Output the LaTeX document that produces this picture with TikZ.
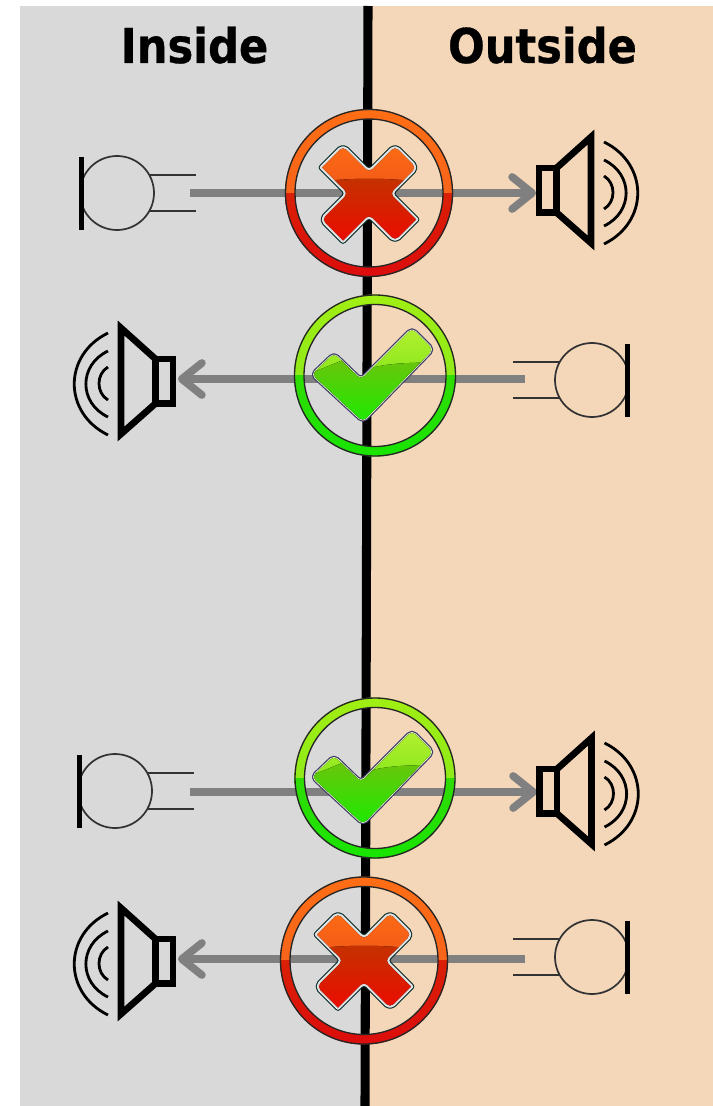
\documentclass[tikz,border=0pt]{standalone}
\usepackage{fontspec}
\setmainfont{DejaVu Sans}
\newfontfamily\titlefont[FakeStretch=0.9,FakeBold=0.6]{DejaVu Sans Bold}
\usetikzlibrary{arrows.meta}
\definecolor{panelL}{HTML}{D9D9D9}
\definecolor{panelR}{HTML}{F4D7B9}
\definecolor{sig}{HTML}{808080}
\definecolor{xhiA}{HTML}{FF6E14}
\definecolor{xhiB}{HTML}{F25A18}
\definecolor{xloA}{HTML}{C43200}
\definecolor{xloB}{HTML}{F00800}
\definecolor{ckedge}{HTML}{3C3C66}
\definecolor{cklight}{HTML}{E4F4C8}
\definecolor{ckhiA}{HTML}{B4F030}
\definecolor{ckhiB}{HTML}{8CE81C}
\definecolor{cklA}{HTML}{6CC40C}
\definecolor{cklB}{HTML}{18EC00}
\definecolor{rxT}{HTML}{FF6E14}
\definecolor{rxM}{HTML}{EE5A22}
\definecolor{rxN}{HTML}{D83400}
\definecolor{rxB}{HTML}{DC0C0C}
\definecolor{rcT}{HTML}{A0EE14}
\definecolor{rcM}{HTML}{80E81C}
\definecolor{rcN}{HTML}{48D408}
\definecolor{rcB}{HTML}{18E400}
\tikzset{
  sigline/.style={draw=sig,line width=5.8pt,-{Straight Barb[length=15pt,width=24pt,line width=5.8pt,round]}},
  thin mic/.style={draw=black!80,line width=1.3pt},
  bar mic/.style={draw=black,line width=3.9pt},
  title/.style={font=\titlefont\fontsize{36}{40}\selectfont,text=black,inner sep=0pt,anchor=base},
  spk/.style={draw=black,line width=5pt,line join=miter},
  wave/.style={draw=black,line width=2.1pt},
  pics/micpic/.style={code={
    \draw[thin mic] (0,0) circle (37);
    \draw[thin mic] (32,-18) -- (79,-18) (32,18) -- (79,18);
    \draw[bar mic] (-35.5,-36.5) -- (-35.5,36.5);
  }},
  pics/spkpic/.style={code={
    \draw[spk] (-44.5,-22) rectangle (-27,22.5);
    \draw[spk] (-27,-22) -- (7.5,-53) -- (7.5,53) -- (-27,22.5);
    \draw[wave] (20.5,-48) .. controls (65.5,-26) and (65.5,32) .. (20.5,54);
    \draw[wave] (20.5,-30) .. controls (50,-16) and (50,22) .. (20.5,36);
    \draw[wave] (20.5,-14) .. controls (32.5,-7) and (32.5,12) .. (20.5,19);
  }},
}
\newcommand{\ringpic}[7]{%
  % x y r top mid-upper mid-lower bottom
  \begin{scope}[shift={(#1,#2)}]
    \begin{scope}
      \clip (-#3-1,-#3-1) rectangle (#3+1,0);
      \path[even odd rule,top color=#4,bottom color=#5] (0,0) circle (#3) (0,0) circle (#3-10);
    \end{scope}
    \begin{scope}
      \clip (-#3-1,0) rectangle (#3+1,#3+1);
      \path[even odd rule,top color=#6,bottom color=#7] (0,0) circle (#3) (0,0) circle (#3-10);
    \end{scope}
    \draw[black!85,line width=1pt] (0,0) circle (#3-0.5) (0,0) circle (#3-10);
  \end{scope}}
\newcommand{\crosspic}[2]{%
  \begin{scope}[shift={(#1,#2)}]
    \def\xp{(13,-34) [rounded corners=3.5pt] -- (26,-47) -- (47,-26) -- (21,0) [sharp corners] -- (47,26) [rounded corners=3.5pt] -- (26,47) -- (0,21) [sharp corners] -- (-26,47) [rounded corners=3.5pt] -- (-47,26) -- (-21,0) [sharp corners] -- (-47,-26) [rounded corners=3.5pt] -- (-26,-47) -- (0,-21) [sharp corners] -- cycle}
    \draw[draw=black!70!teal,line width=5pt,line join=round] \xp;
    \draw[draw=white!88!black,line width=3.4pt,line join=round] \xp;
    \begin{scope}
      \clip \xp;
      \fill[top color=xhiA,bottom color=xhiB] (-55,-55) rectangle (55,-8);
      \fill[top color=xloA,bottom color=xloB] (-55,-11) .. controls (-20,-16) and (20,-16) .. (55,-11) -- (55,55) -- (-55,55) -- cycle;
    \end{scope}
  \end{scope}}
\newcommand{\checkpic}[2]{%
  \begin{scope}[shift={(#1,#2)}]
    \def\cp{(11.5,-21.5) [rounded corners=3.5pt] -- (37,-47) -- (58,-26) -- (-12,46) -- (-63,-1) -- (-41,-22) -- (-14,4) [sharp corners] -- cycle}
    \draw[draw=ckedge,line width=3.2pt,line join=round] \cp;
    \draw[draw=cklight,line width=1.4pt,line join=round] \cp;
    \begin{scope}
      \clip \cp;
      \fill[top color=ckhiA,bottom color=ckhiB] (-65,-50) rectangle (65,-2);
      \fill[bottom color=cklB,top color=cklA] (-65,-2) -- (-28,-17) -- (-10,-6) .. controls (10,-12) and (30,-13) .. (65,-13) -- (65,50) -- (-65,50) -- cycle;
    \end{scope}
  \end{scope}}
\begin{document}
\begin{tikzpicture}[x=0.75pt,y=-0.75pt]
\useasboundingbox (0,0) rectangle (713,1106);
\fill[white] (0,0) rectangle (713,1106);
\fill[panelL] (20,6) rectangle (367,1106);
\fill[panelR] (367,6) rectangle (713,1106);
\coordinate (walltop) at (368,6);
\coordinate (wallbot) at (365,1106);
\draw[black,line width=6.8pt] (walltop) -- (wallbot);
\node[title] (inside) at (194.5,63) {Inside};
\node[title] (outside) at (542.5,63) {Outside};
% named anchor coordinates
\coordinate (m1) at (190,193);   \coordinate (s1) at (536,193);
\coordinate (m2) at (525,379);   \coordinate (s2) at (178,379);
\coordinate (m3) at (190,792);   \coordinate (s3) at (537,792);
\coordinate (m4) at (525,959);   \coordinate (s4) at (178,959);
\draw[sigline] (m1) -- (s1);
\draw[sigline] (m2) -- (s2);
\draw[sigline] (m3) -- (s3);
\draw[sigline] (m4) -- (s4);
% microphones
\pic at (117,193) {micpic};
\pic[xscale=-1] at (592,380) {micpic};
\pic at (115,791) {micpic};
\pic[xscale=-1] at (592,957) {micpic};
% speakers
\pic at (583.5,190) {spkpic};
\pic[xscale=-1] at (128.5,381) {spkpic};
\pic at (584,791) {spkpic};
\pic[xscale=-1] at (128.5,961) {spkpic};
% signs
\ringpic{369}{193}{84}{rxT}{rxM}{rxN}{rxB}
\crosspic{369}{193.5}
\ringpic{375}{375.5}{81}{rcT}{rcM}{rcN}{rcB}
\checkpic{375}{375.5}
\ringpic{375}{778}{80.5}{rcT}{rcM}{rcN}{rcB}
\checkpic{375}{778}
\ringpic{364}{960.5}{84}{rxT}{rxM}{rxN}{rxB}
\crosspic{364}{960.5}
\end{tikzpicture}
\end{document}
